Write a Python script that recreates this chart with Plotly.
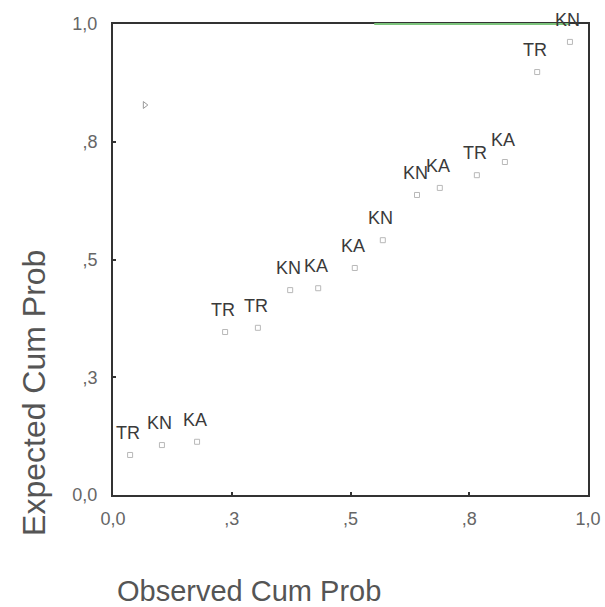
import plotly.graph_objects as go

# P-P plot data (observed vs expected cumulative probability)
labels = ["TR", "KN", "KA", "TR", "TR", "KN", "KA", "KA", "KN", "KN", "KA", "TR", "KA", "TR", "KN"]
observed = [0.036, 0.103, 0.177, 0.236, 0.305, 0.373, 0.432, 0.509, 0.568, 0.640, 0.688, 0.766, 0.825, 0.893, 0.962]
expected = [0.085, 0.106, 0.113, 0.346, 0.355, 0.435, 0.439, 0.482, 0.541, 0.637, 0.652, 0.679, 0.707, 0.898, 0.962]

# unlabeled stray point
extra_obs = [0.067]
extra_exp = [0.828]

tick_vals = [0, 0.25, 0.5, 0.75, 1.0]
x_tick_text = ["0,0", ",3", ",5", ",8", "1,0"]
y_tick_text = ["0,0", ",3", ",5", ",8", "1,0"]

fig = go.Figure()
fig.add_trace(go.Scatter(
    x=observed, y=expected, mode="markers",
    marker=dict(symbol="square-open", size=5, color="#b8b8b8", line=dict(width=1)),
    showlegend=False, hoverinfo="skip", cliponaxis=False))
fig.add_trace(go.Scatter(
    x=extra_obs, y=extra_exp, mode="markers",
    marker=dict(symbol="triangle-right-open", size=6, color="#999999", line=dict(width=1)),
    showlegend=False, hoverinfo="skip"))

for xo, ye, lab in zip(observed, expected, labels):
    fig.add_annotation(x=xo, y=ye, text=lab, showarrow=False,
                       xanchor="center", yanchor="middle", xshift=-2, yshift=22,
                       font=dict(family="Liberation Sans, Arial", size=18, color="#3a3a3a"))

axis_common = dict(range=[0, 1], tickvals=tick_vals, showgrid=False, zeroline=False,
                   showline=True, linecolor="#333333", linewidth=2, mirror=True,
                   ticks="inside", ticklen=3, tickwidth=2, tickcolor="#333333",
                   automargin=False,
                   tickfont=dict(family="Liberation Sans, Arial", size=18, color="#666666"))

fig.update_xaxes(**axis_common, ticktext=x_tick_text, ticklabelstandoff=6)
fig.update_yaxes(**axis_common, ticktext=y_tick_text, ticklabelstandoff=10)

# axis titles
fig.add_annotation(xref="paper", yref="paper", x=0.286, y=-0.204, text="Observed Cum Prob",
                   showarrow=False, xanchor="center", yanchor="middle",
                   font=dict(family="Liberation Sans, Arial", size=29, color="#555555"))
fig.add_annotation(xref="paper", yref="paper", x=-0.166, y=0.217, text="Expected Cum Prob",
                   showarrow=False, xanchor="center", yanchor="middle", textangle=-90,
                   font=dict(family="Liberation Sans, Arial", size=32, color="#555555"))

# greenish tint on the upper border (as seen in the scan)
fig.add_shape(type="line", xref="paper", yref="paper", x0=0.55, x1=0.96, y0=1, y1=1,
              line=dict(color="#7cc47c", width=2))

fig.update_layout(width=605, height=607,
                  margin=dict(l=113, r=17, t=24, b=112),
                  paper_bgcolor="white", plot_bgcolor="white")

# remove the default page margin so the figure fills the window exactly
fig.write_html("out.html", config={"displayModeBar": False},
               post_script="document.body.style.margin='0';document.body.style.overflow='hidden';")
